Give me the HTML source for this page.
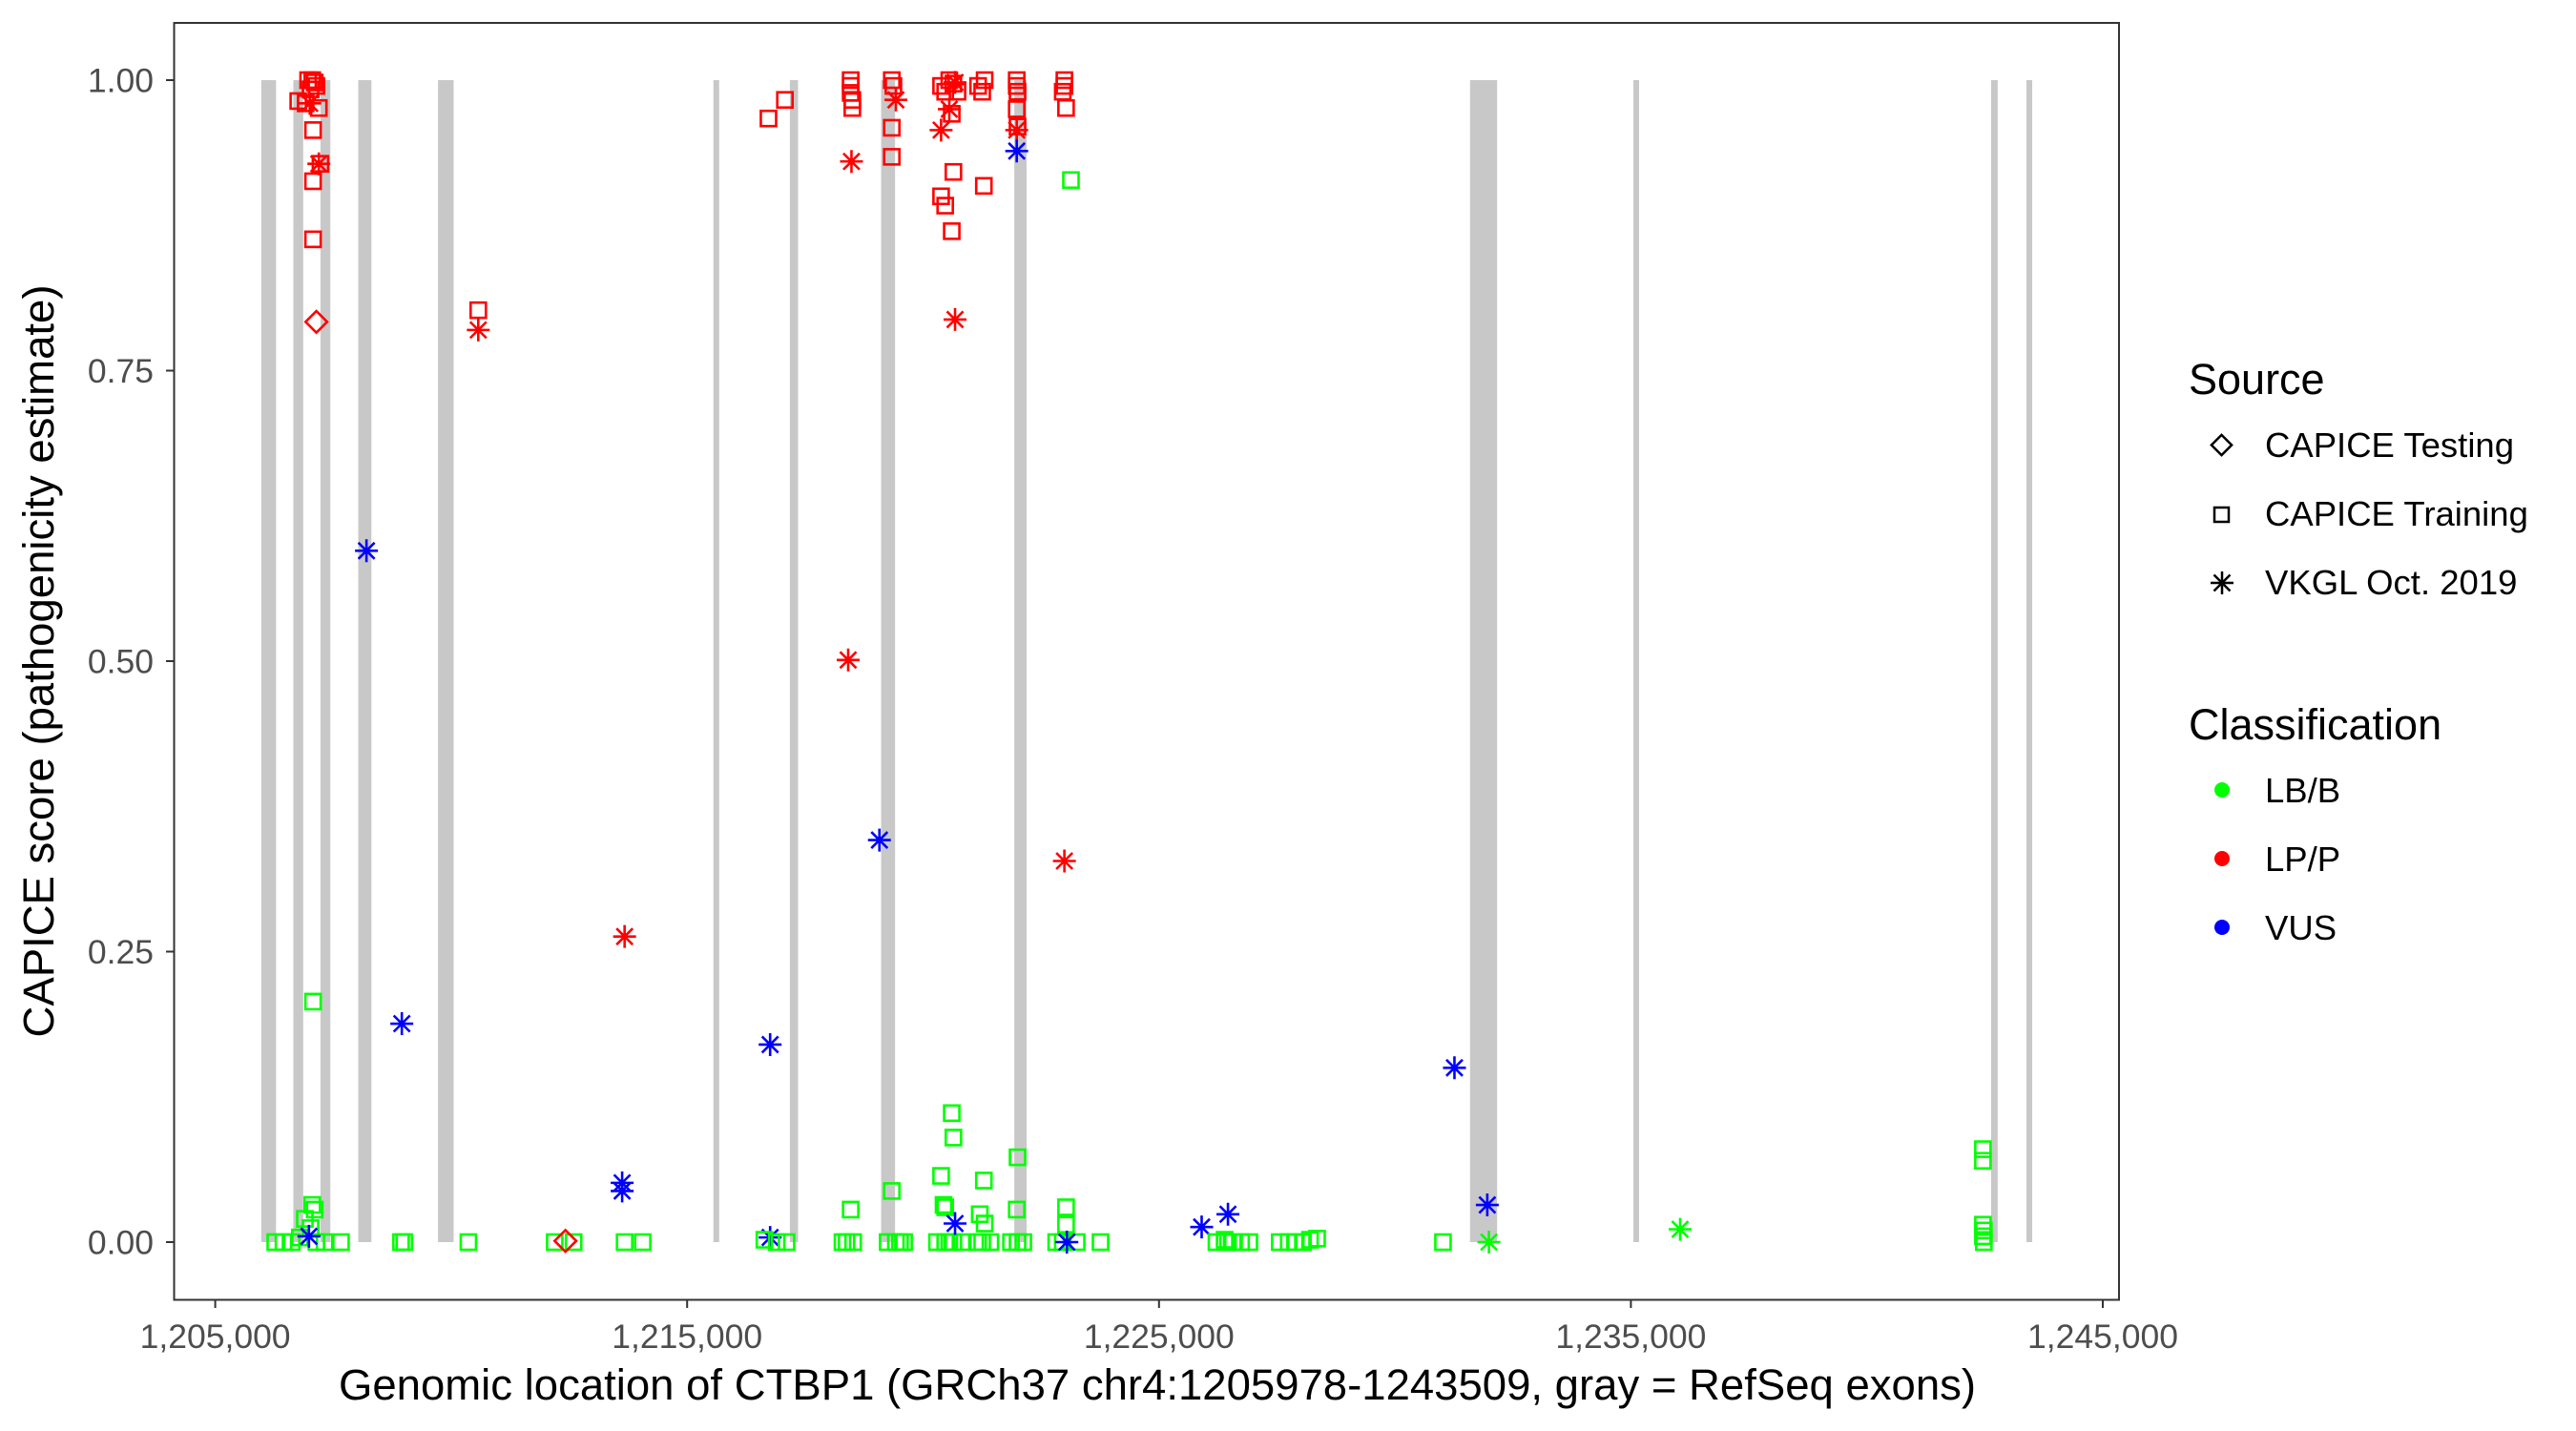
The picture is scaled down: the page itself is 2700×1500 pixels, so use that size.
<!DOCTYPE html>
<html><head><meta charset="utf-8"><style>
html,body{margin:0;padding:0;background:#fff;}
svg{display:block;font-family:"Liberation Sans",sans-serif;}
</style></head><body>
<svg id="chart" width="2700" height="1500" viewBox="0 0 2700 1500">
<rect x="0" y="0" width="2700" height="1500" fill="#fff"/>
<g id="exons"></g>
<g id="points"></g>
<rect x="182.5" y="24" width="2038.5" height="1338.5" fill="none" stroke="#333" stroke-width="2"/>
<g id="axes"></g>
<text x="1213" y="1467" text-anchor="middle" font-size="45.5" fill="#000">Genomic location of CTBP1 (GRCh37 chr4:1205978-1243509, gray = RefSeq exons)</text>
<text transform="translate(56,693) rotate(-90)" text-anchor="middle" font-size="45.5" fill="#000">CAPICE score (pathogenicity estimate)</text>
<g>
<text x="2294" y="413" font-size="45">Source</text>
<g>
<rect x="2321" y="459" width="15" height="15" transform="rotate(45 2328.5 466.5)" fill="none" stroke="#000" stroke-width="2.5"/>
<text x="2374" y="479" font-size="36.5">CAPICE Testing</text></g>
<g>
<rect x="2321" y="532" width="15" height="15" fill="none" stroke="#000" stroke-width="2.5"/>
<text x="2374" y="551" font-size="36.5">CAPICE Training</text></g>
<g>
<path d="M2317 611h24M2329 599v24M2320.5 602.5l17 17M2337.5 602.5l-17 17" stroke="#000" stroke-width="2.5"/>
<text x="2374" y="623" font-size="36.5">VKGL Oct. 2019</text></g>
<text x="2294" y="775" font-size="45">Classification</text>
<g><circle cx="2329" cy="828" r="8" fill="#00ff00"/><text x="2374" y="841" font-size="36.5">LB/B</text></g>
<g><circle cx="2329" cy="900" r="8" fill="#ff0000"/><text x="2374" y="913" font-size="36.5">LP/P</text></g>
<g><circle cx="2329" cy="972" r="8" fill="#0000ff"/><text x="2374" y="985" font-size="36.5">VUS</text></g>
</g>
</svg>
<script>
const exonStarts=[1205975,1206655,1207230,1208031,1209721,1215557,1217177,1219111,1221933,1231591,1235052,1242634,1243382];
const exonEnds=[1206289,1206864,1207439,1208310,1210052,1215679,1217351,1219407,1222195,1232165,1235157,1242773,1243504];
const xTicks=[1205000,1215000,1225000,1235000,1245000];
const xTickLabels=["1,205,000","1,215,000","1,225,000","1,235,000","1,245,000"];
const yTicks=[0,0.25,0.5,0.75,1];
const yTickLabels=["0.00","0.25","0.50","0.75","1.00"];
// source: S=CAPICE Training, D=CAPICE Testing, A=VKGL ; cls: G=LB/B, R=LP/P, B=VUS
const pos=[
1206968,1207056,1207108,1207021,1207143,1206916,1206759,1207195,1207073,1207230,1207073,1207073,
1207003,1207195,1207143,
1207073,1207056,1207108,1206899,1207021,1206794,1206272,1206446,1206620,1207317,1207143,1207665,
1206986,
1208205,1208954,1208937,1209007,1210365,1210574,1210574,1212194,1212595,1212421,1213675,1213675,1214058,1213623,1213623,
1216759,1216759,1216637,1216898,1217107,1216724,1217072,
1218466,1218466,1218466,1218501,1218501,1218483,1218413,1218466,1218379,1218518,1218292,
1219337,1219372,1219337,1219337,1219424,1219075,1219337,1219250,1219424,1219511,1219598,
1220382,1220469,1220556,1220643,1220730,1220608,1220643,1220382,1220469,1220608,
1220678,1220556,1220382,1220678,
1220608,1220643,1220382,1220434,1220469,1220295,1220469,1220556,1220643,1220817,1220678,
1221166,1221305,1221253,1221288,1221288,1221201,1221305,1221166,1221253,1221427,
1221985,1221985,1222002,1221985,1222002,1221985,1221985,1222002,1221985,1221863,1222124,1222002,
1222995,1222995,1223030,1222960,1222995,1223134,1223030,1223030,1222821,1222960,1223256,1223761,1223047,
1225904,1226461,1226217,1226391,1226461,1226566,1226740,1226914,1227559,1227750,1227900,1228050,1228200,1228350,1231018,
1231261,1231957,1231992,1236043,
1242460,1242460,1242460,1242480,1242460,1242480];
const score=[
1.0,1.0,0.998,0.992,0.995,0.98,0.982,0.976,0.957,0.928,0.913,0.863,
0.98,0.928,0.792,
0.207,0.032,0.028,0.02,0.012,0.004,0,0,0,0,0,0,
0.005,
0.595,0.188,0,0,0,0.802,0.785,0,0,0.001,0.263,0,0,0.051,0.044,
0.17,0.004,0.002,0,0,0.967,0.983,
1.0,0.995,0.989,0.983,0.976,0.93,0.501,0.028,0,0,0,
1.0,0.995,0.959,0.934,0.983,0.346,0.044,0,0,0,0,
0.995,0.99,1.0,0.997,0.99,0.971,0.921,0.9,0.892,0.87,
0.998,0.975,0.957,0.794,
0.111,0.09,0.057,0.032,0.03,0,0,0,0,0,0.016,
0.995,1.0,0.99,0.909,0.053,0.024,0.016,0,0,0,
1.0,0.995,0.99,0.975,0.96,0.957,0.939,0.073,0.028,0,0,0,
1.0,0.995,0.976,0.99,0.328,0.914,0.03,0.015,0,0,0,0,0,
0.013,0.024,0,0.002,0,0,0,0,0,0,0,0,0.002,0.003,0,
0.15,0.032,0,0.011,
0.08,0.07,0.015,0.01,0.005,0];
const source=[
"S","S","S","S","S","S","S","S","S","S","S","S",
"A","A","D",
"S","S","S","S","S","S","S","S","S","S","S","S",
"A",
"A","A","S","S","S","S","A","S","S","D","A","S","S","A","A",
"A","A","S","S","S","S","S",
"S","S","S","S","S","A","A","S","S","S","S",
"S","S","S","S","A","A","S","S","S","S","S",
"S","S","S","S","S","S","S","S","S","S",
"A","A","A","A",
"S","S","S","S","S","S","S","S","S","S","A",
"S","S","S","S","S","S","S","S","S","S",
"S","S","S","S","S","A","A","S","S","S","S","S",
"S","S","S","S","A","S","S","S","S","S","S","S","A",
"A","A","S","S","S","S","S","S","S","S","S","S","S","S","S",
"A","A","A","A",
"S","S","S","S","S","S"];
const cls=[
"R","R","R","R","R","R","R","R","R","R","R","R",
"R","R","R",
"G","G","G","G","G","G","G","G","G","G","G","G",
"B",
"B","B","G","G","G","R","R","G","G","R","R","G","G","B","B",
"B","B","G","G","G","R","R",
"R","R","R","R","R","R","R","G","G","G","G",
"R","R","R","R","R","B","G","G","G","G","G",
"R","R","R","R","R","R","R","R","R","R",
"R","R","R","R",
"G","G","G","G","G","G","G","G","G","G","B",
"R","R","R","R","G","G","G","G","G","G",
"R","R","R","R","R","R","B","G","G","G","G","G",
"R","R","R","R","R","G","G","G","G","G","G","G","B",
"B","B","G","G","G","G","G","G","G","G","G","G","G","G","G",
"B","B","G","G",
"G","G","G","G","G","G"];
const X0=225.6,PXPER=494.6/10000,Y0=1302,YH=1218;
function sx(g){return X0+(g-1205000)*PXPER;}
function sy(v){return Y0-v*YH;}
const NS="http://www.w3.org/2000/svg";
function el(t,a,p){const e=document.createElementNS(NS,t);for(const k in a)e.setAttribute(k,a[k]);p.appendChild(e);return e;}
const exG=document.getElementById('exons');
for(let i=0;i<exonStarts.length;i++){
 const r=el('rect',{x:sx(exonStarts[i]),y:sy(1),width:Math.max(6,sx(exonEnds[i])-sx(exonStarts[i])),height:sy(0)-sy(1),fill:'#c8c8c8'},exG);
 
 
}
const colors={G:'#00ff00',R:'#ff0000',B:'#0000ff'};
const pG=document.getElementById('points');
const n=Math.min(pos.length,score.length,source.length,cls.length);
for(let i=0;i<n;i++){
 const x=sx(pos[i]),y=sy(score[i]),c=colors[cls[i]]||'#00ff00',s=source[i];
 let m;
 if(s==='S'){m=el('rect',{x:x-8,y:y-8,width:16,height:16,fill:'none',stroke:c,'stroke-width':2.6},pG);}
 else if(s==='D'){m=el('rect',{x:x-8,y:y-8,width:16,height:16,fill:'none',stroke:c,'stroke-width':2.6,transform:`rotate(45 ${x} ${y})`},pG);}
 else{m=el('path',{d:`M${x-12} ${y}h24M${x} ${y-12}v24M${x-8.5} ${y-8.5}l17 17M${x+8.5} ${y-8.5}l-17 17`,stroke:c,'stroke-width':2.6,fill:'none'},pG);}
 
 
}
const ax=document.getElementById('axes');
for(let i=0;i<xTicks.length;i++){
 const x=sx(xTicks[i]);
 const t=el('line',{x1:x,x2:x,y1:1362.5,y2:1371,stroke:'#333','stroke-width':2},ax);
 
 
 const l=el('text',{x:x,y:1413,'text-anchor':'middle','font-size':35.5,fill:'#4d4d4d'},ax);
 l.textContent=xTickLabels[i];
 
 
}
for(let i=0;i<yTicks.length;i++){
 const y=sy(yTicks[i]);
 const t=el('line',{x1:174,x2:182.5,y1:y,y2:y,stroke:'#333','stroke-width':2},ax);
 
 
 const l=el('text',{x:161,y:y+12.5,'text-anchor':'end','font-size':35.5,fill:'#4d4d4d'},ax);
 l.textContent=yTickLabels[i];
 
 
}
</script>
</body></html>
